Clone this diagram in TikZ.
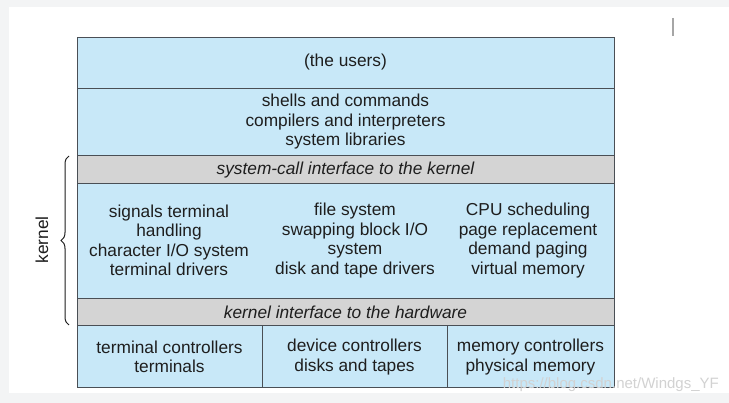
\documentclass[tikz,border=0pt]{standalone}
\usepackage{fontspec}
\setmainfont{Liberation Sans}
\usetikzlibrary{decorations.pathreplacing}
\definecolor{cellblue}{HTML}{C8E8F8}
\definecolor{cellgray}{HTML}{D4D4D4}
\definecolor{edge}{HTML}{4A4F55}
\definecolor{ink}{HTML}{1E1E1E}
\definecolor{bgpage}{HTML}{F3F4F5}
\tikzset{
  cell/.style={draw=edge, line width=0.9pt},
  bluecell/.style={cell, fill=cellblue},
  graycell/.style={cell, fill=cellgray},
  txt/.style={text=ink, font=\fontsize{17.3}{19.5}\selectfont, align=center, inner sep=0pt},
  itxt/.style={txt, font=\fontsize{17.3}{19.5}\selectfont\itshape},
}
\begin{document}
\begin{tikzpicture}[x=1pt,y=-1pt]
\useasboundingbox (0,0) rectangle (729,403);
\fill[bgpage] (0,0) rectangle (729,403);
\fill[white] (9,7) rectangle (729,393);
\draw[gray!70, line width=1.2pt] (673,18) -- (673,36);
% rows
\draw[bluecell] (77,37) rectangle (614,88);
\draw[bluecell] (77,88) rectangle (614,155);
\draw[graycell] (77,155) rectangle (614,183);
\draw[bluecell] (77,183) rectangle (614,298);
\draw[graycell] (77,298) rectangle (614,325);
\draw[bluecell] (77,325) rectangle (262,387);
\draw[bluecell] (262,325) rectangle (447,387);
\draw[bluecell] (447,325) rectangle (614,387);
% texts
\node[txt] (users) at (345.5,62.5) {(the users)};
\node[txt] (shells) at (345.5,122) {shells and commands\\compilers and interpreters\\system libraries};
\node[itxt] (sci) at (345.5,170) {system-call interface to the kernel};
\node[txt] (k1) at (169,240.5) {signals terminal\\handling\\character I/O system\\terminal drivers};
\node[txt] (k2) at (355,240.5) {file system\\swapping block I/O\\system\\disk and tape drivers};
\node[txt] (k3) at (528,240.5) {CPU scheduling\\page replacement\\demand paging\\virtual memory};
\node[itxt] (khw) at (345.5,312) {kernel interface to the hardware};
\node[txt] (b1) at (169.5,357) {terminal controllers\\terminals};
\node[txt] (b2) at (354.5,357) {device controllers\\disks and tapes};
\node[txt] (b3) at (530.5,357) {memory controllers\\physical memory};
% brace
\coordinate (btop) at (69,156);
\coordinate (bbot) at (69,325);
\draw[ink, line width=1pt, decorate, decoration={brace, amplitude=8pt}] (bbot) -- (btop);
\node[txt, rotate=90] (kernel) at (42,240) {kernel};
% watermark
\node[text=gray!35, font=\fontsize{15}{17}\selectfont, inner sep=0pt, anchor=east] (wm) at (719,385) {https://blog.csdn.net/Windgs\_YF};
\end{tikzpicture}
\end{document}
